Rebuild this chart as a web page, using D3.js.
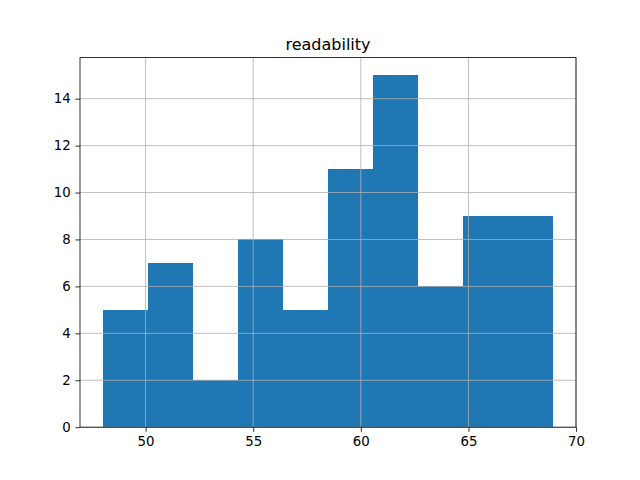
<!DOCTYPE html>
<html>
<head>
<meta charset="utf-8">
<script src="https://cdn.jsdelivr.net/npm/d3@7"></script>
<style>
  body { margin: 0; background: #fff; }
  text { font-family: "DejaVu Sans", sans-serif; }
</style>
</head>
<body>
<div id="chart"></div>
<script>
const width = 640;
const height = 480;
const margin = {top: 57.6, right: 64, bottom: 52.8, left: 80};

// bin edges and counts
const binEdges = [48.0, 50.095, 52.19, 54.285, 56.38, 58.475, 60.57, 62.665, 64.76, 66.855, 68.95];
const counts = [5, 7, 2, 8, 5, 11, 15, 6, 9, 9];
const xTicks = [50, 55, 60, 65, 70];
const yTicks = [0, 2, 4, 6, 8, 10, 12, 14];
const title = 'readability';

const bins = counts.map((c, i) => ({x0: binEdges[i], x1: binEdges[i + 1], count: c}));

const svg = d3.select('#chart')
  .append('svg')
  .attr('width', width)
  .attr('height', height);

const innerW = width - margin.left - margin.right;
const innerH = height - margin.top - margin.bottom;

// matplotlib-style 5% margins on x
const span = binEdges[binEdges.length - 1] - binEdges[0];
const xscale = d3.scaleLinear()
  .domain([binEdges[0] - span * 0.05, binEdges[binEdges.length - 1] + span * 0.05])
  .range([margin.left, margin.left + innerW]);
const yscale = d3.scaleLinear()
  .domain([0, d3.max(counts) * 1.05])
  .range([margin.top + innerH, margin.top]);

// bars
svg.selectAll('.bar')
  .data(bins)
  .enter()
  .append('rect')
  .attr('class', 'bar')
  .attr('x', d => xscale(d.x0))
  .attr('y', d => yscale(d.count))
  .attr('width', d => xscale(d.x1) - xscale(d.x0))
  .attr('height', d => yscale(0) - yscale(d.count))
  .attr('fill', '#1f77b4')
  .attr('shape-rendering', 'crispEdges');

// grid on top of bars
const grid = svg.append('g').attr('stroke', '#b0b0b0').attr('stroke-width', 0.8);
grid.selectAll('.vgrid')
  .data(xTicks)
  .enter()
  .append('line')
  .attr('x1', d => xscale(d)).attr('x2', d => xscale(d))
  .attr('y1', margin.top).attr('y2', margin.top + innerH);
grid.selectAll('.hgrid')
  .data(yTicks)
  .enter()
  .append('line')
  .attr('x1', margin.left).attr('x2', margin.left + innerW)
  .attr('y1', d => yscale(d)).attr('y2', d => yscale(d));

// axes
const xaxis = d3.axisBottom(xscale).tickValues(xTicks).tickSize(4.7).tickPadding(4.5).tickSizeOuter(0);
const yaxis = d3.axisLeft(yscale).tickValues(yTicks).tickSize(4.7).tickPadding(4.5).tickSizeOuter(0);

const gx = svg.append('g')
  .attr('transform', 'translate(0,' + (margin.top + innerH) + ')')
  .call(xaxis);
const gy = svg.append('g')
  .attr('transform', 'translate(' + margin.left + ',0)')
  .call(yaxis);

[gx, gy].forEach(g => {
  g.select('.domain').remove();
  g.selectAll('.tick line').attr('stroke', '#000').attr('stroke-width', 0.8);
  g.selectAll('.tick text')
    .attr('fill', '#000')
    .style('font-size', '13.33px')
    .style('font-family', '"DejaVu Sans", sans-serif');
});

// spines
svg.append('rect')
  .attr('x', margin.left)
  .attr('y', margin.top)
  .attr('width', innerW)
  .attr('height', innerH)
  .attr('fill', 'none')
  .attr('stroke', '#000')
  .attr('stroke-width', 0.8);

// title
svg.append('text')
  .attr('x', margin.left + innerW / 2)
  .attr('y', margin.top - 8)
  .attr('text-anchor', 'middle')
  .style('font-size', '16px')
  .text(title);
</script>
</body>
</html>
